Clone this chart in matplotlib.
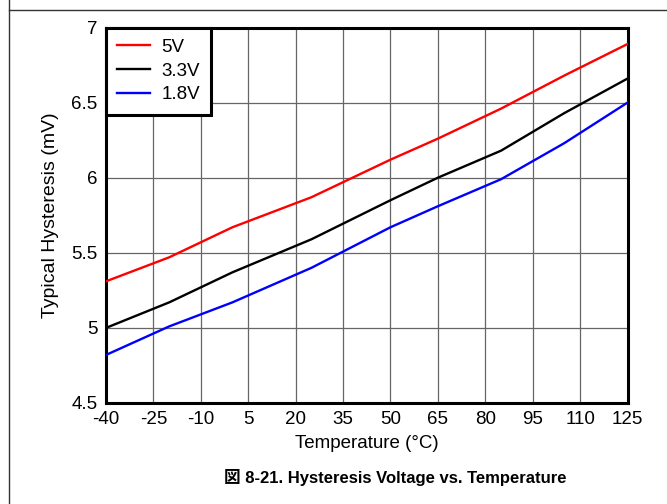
import matplotlib
matplotlib.use("Agg")
import matplotlib.pyplot as plt
from matplotlib.lines import Line2D

plt.rcParams["font.family"] = ["Liberation Sans", "Noto Sans CJK JP", "DejaVu Sans"]
plt.rcParams["axes.unicode_minus"] = False

# Hysteresis readings per supply voltage (mV)
temps = [-40, -20, 0, 25, 50, 65, 85, 105, 125]
hyst_5v0 = [5.31, 5.47, 5.67, 5.87, 6.12, 6.26, 6.46, 6.68, 6.89]
hyst_3v3 = [5.00, 5.17, 5.37, 5.59, 5.85, 6.00, 6.18, 6.43, 6.66]
hyst_1v8 = [4.82, 5.01, 5.17, 5.40, 5.67, 5.81, 5.99, 6.23, 6.50]

x_ticks = [-40, -25, -10, 5, 20, 35, 50, 65, 80, 95, 110, 125]
y_ticks = [4.5, 5, 5.5, 6, 6.5, 7]
y_labels = ["4.5", "5", "5.5", "6", "6.5", "7"]

fig = plt.figure(figsize=(6.67, 5.04), dpi=100)
ax = fig.add_axes([106 / 667, 1 - 403 / 504, 521.5 / 667, 375.5 / 504])

ax.plot(temps, hyst_5v0, color="#ff0000", lw=1.7, label="5V", zorder=3)
ax.plot(temps, hyst_3v3, color="black", lw=1.7, label="3.3V", zorder=3)
ax.plot(temps, hyst_1v8, color="#0000ff", lw=1.7, label="1.8V", zorder=3)

ax.set_xlim(-40, 125)
ax.set_ylim(4.5, 7)
ax.set_xticks(x_ticks)
ax.set_yticks(y_ticks)
ax.set_yticklabels(y_labels)
ax.tick_params(length=0, labelsize=13.5, pad=6)
ax.grid(True, color="#666666", lw=0.9)
ax.set_axisbelow(True)
for s in ax.spines.values():
    s.set_linewidth(2.2)

ax.set_xlabel("Temperature (°C)", fontsize=13.5, labelpad=5)
ax.set_ylabel("Typical Hysteresis (mV)", fontsize=14, labelpad=9)

leg = ax.legend(loc="upper left", borderaxespad=0, fancybox=False, framealpha=1,
                edgecolor="black", fontsize=13.5, handlelength=1.75, labelspacing=0.35,
                borderpad=0.6, handletextpad=0.6)
leg.get_frame().set_linewidth(2.2)

fig.text(395 / 667, 1 - 477 / 504, "図 8-21. Hysteresis Voltage vs. Temperature",
         ha="center", va="center", fontsize=12, fontweight="bold")

# page frame lines
fig.add_artist(Line2D([9 / 667, 9 / 667], [0, 1], transform=fig.transFigure, color="#333333", lw=1))
fig.add_artist(Line2D([9 / 667, 1], [1 - 10 / 504, 1 - 10 / 504], transform=fig.transFigure,
                      color="#333333", lw=1))

fig.savefig("out.png", dpi=100)
